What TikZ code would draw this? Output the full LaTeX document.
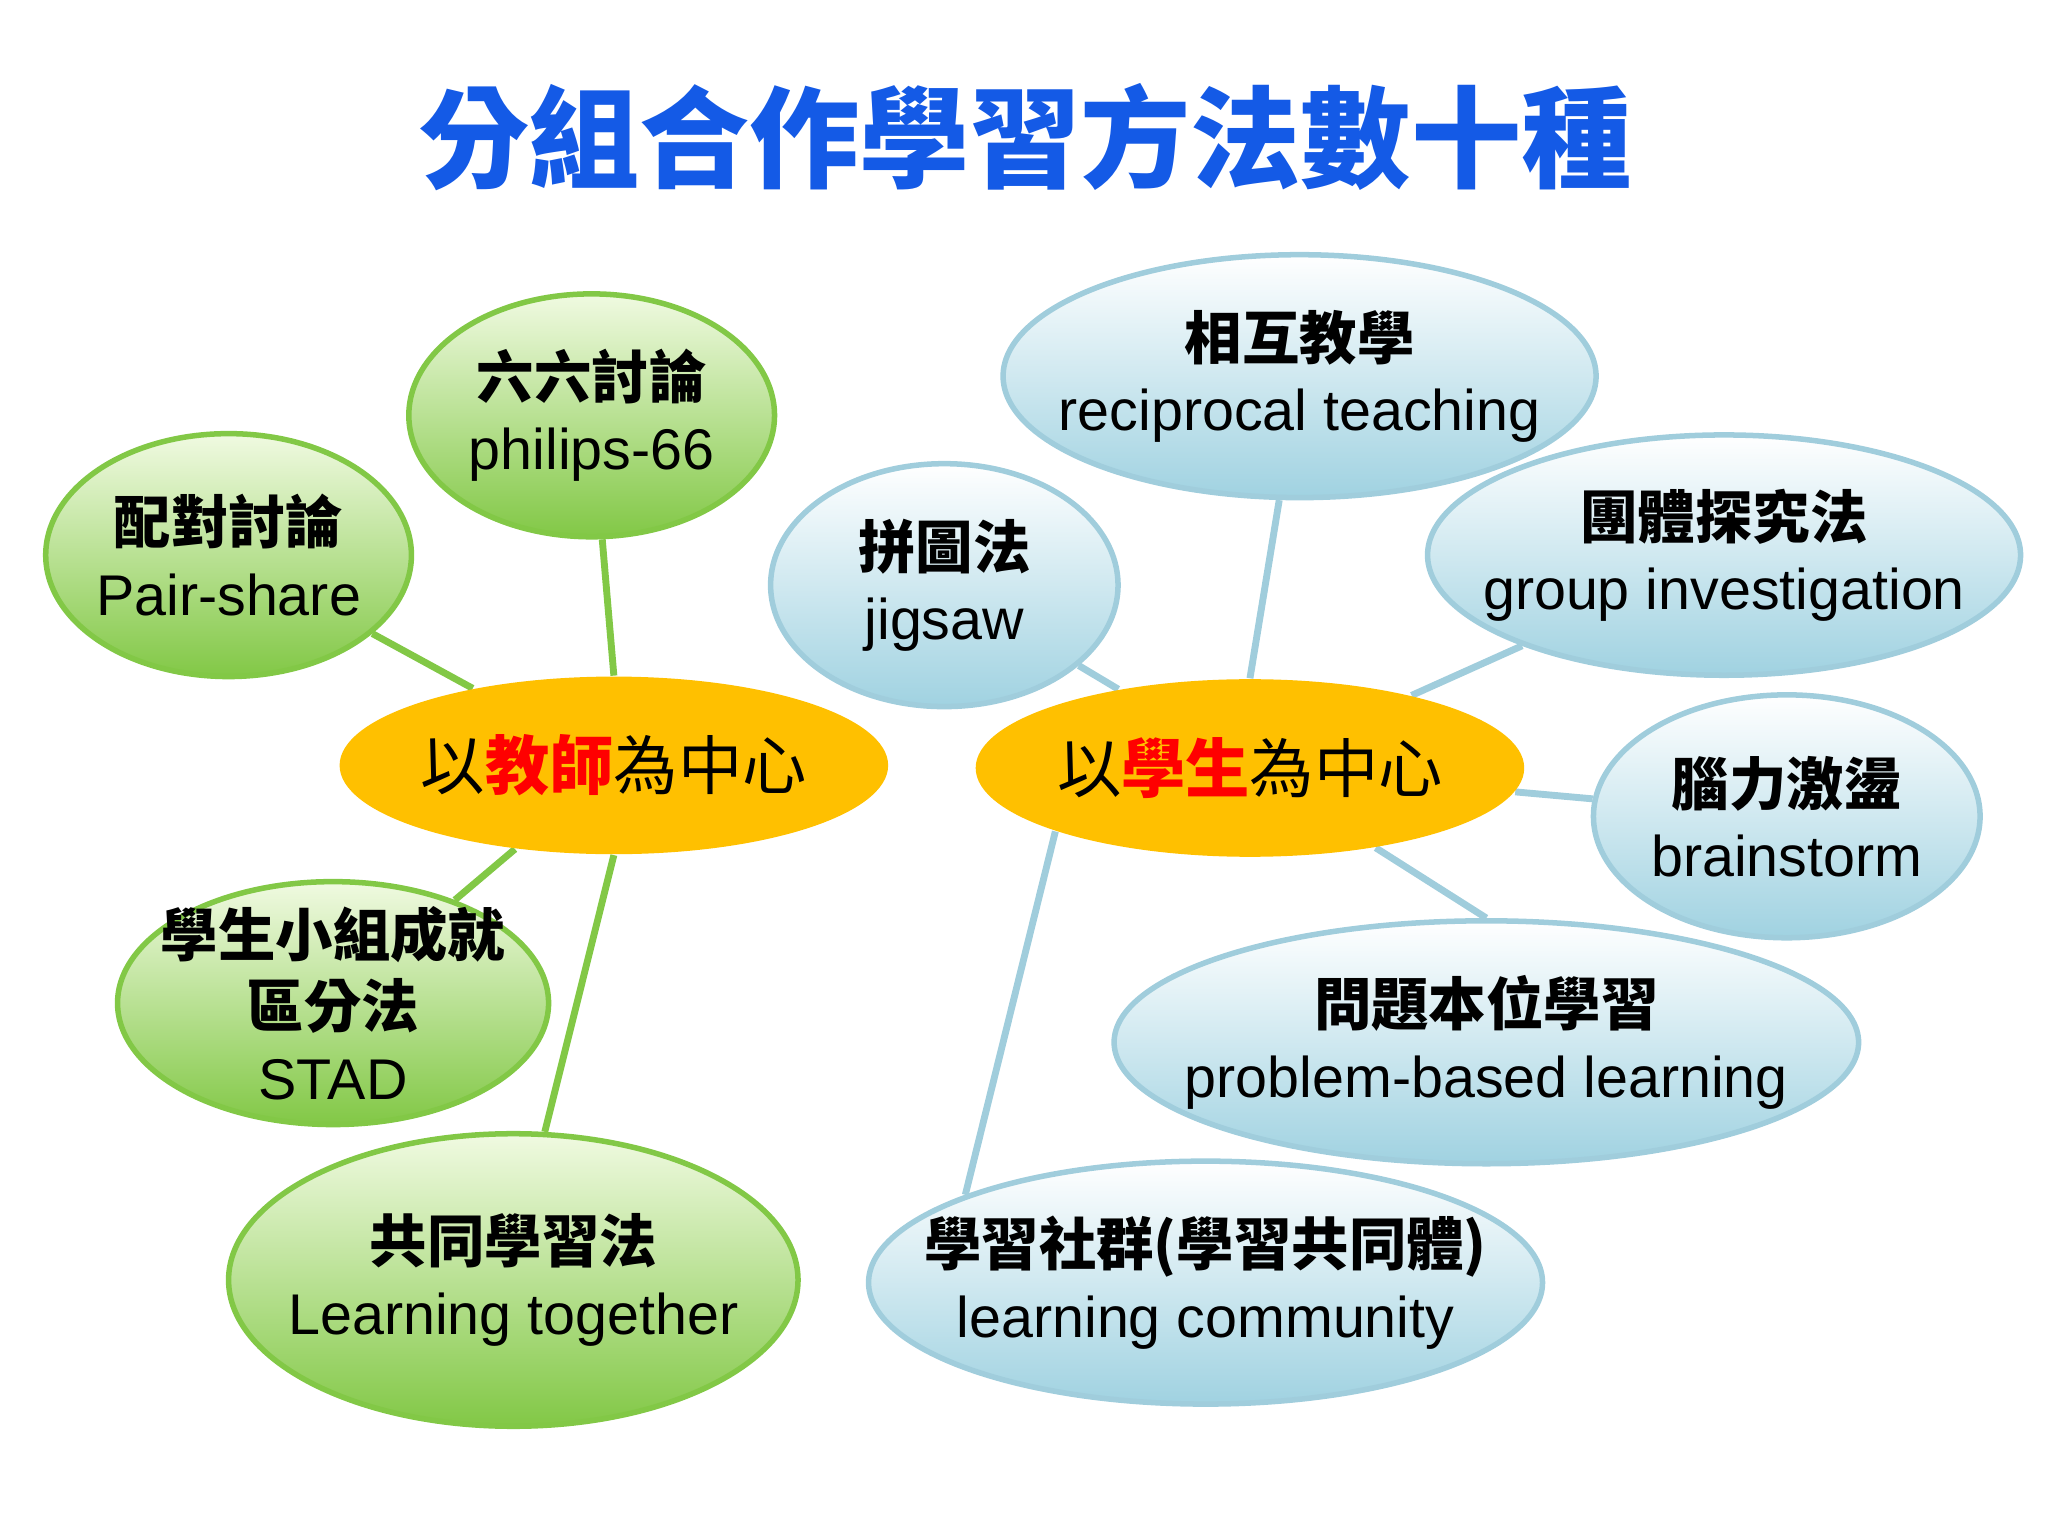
\documentclass[tikz,border=0pt]{standalone}
\usepackage{fontspec}
\setmainfont{Liberation Sans}
\newfontfamily\cjk{Noto Sans CJK TC}
\usetikzlibrary{shapes.geometric,backgrounds}
\definecolor{gbot}{RGB}{130,200,70}
\definecolor{gtop}{RGB}{240,250,225}
\definecolor{gline}{RGB}{130,200,70}
\definecolor{bbot}{RGB}{160,210,225}
\definecolor{bline}{RGB}{160,205,220}
\definecolor{ctrc}{RGB}{255,192,0}
\definecolor{titc}{RGB}{20,90,230}
\begin{document}
\begin{tikzpicture}[x=0.01cm,y=-0.01cm,
  sz/.style 2 args={minimum width=#1*0.01cm,minimum height=#2*0.01cm},
  bub/.style={ellipse,inner sep=0pt,line width=1.2pt},
  txt/.style={align=center,font=\fontsize{12.5pt}{15.5pt}\selectfont,inner sep=0pt},
  gr/.style={bub,draw=gline,top color=gtop,bottom color=gbot},
  bl/.style={bub,draw=bline,top color=white,bottom color=bbot},
  ctr/.style={ellipse,inner sep=0pt,fill=ctrc},
  ctxt/.style={font=\cjk\fontsize{14pt}{16pt}\selectfont,inner sep=0pt},
  gl/.style={draw=gline,line width=1.5pt},
  bll/.style={draw=bline,line width=1.5pt}]
\useasboundingbox (0,0) rectangle (1568,1176);
\node[font=\cjk\bfseries\fontsize{24pt}{26pt}\selectfont,text=titc] (title) at (785,105) {分組合作學習方法數十種};
\node[gr,sz={280}{186}] (pair) at (175,425) {};
\node[txt] (pairT) at (pair) {{\cjk\bfseries 配對討論}\\Pair-share};
\node[gr,sz={280}{186}] (six) at (453,318) {};
\node[txt] (sixT) at (six) {{\cjk\bfseries 六六討論}\\philips-66};
\node[ctr,sz={420}{136}] (teach) at (470,586) {};
\node[ctxt] (teachT) at (teach) {以\textcolor{red}{\bfseries 教師}為中心};
\node[gr,sz={330}{186}] (stad) at (255,768) {};
\node[txt] (stadT) at (stad) {{\cjk\bfseries 學生小組成就}\\{\cjk\bfseries 區分法}\\STAD};
\node[gr,sz={436}{224}] (lt) at (393,980) {};
\node[txt] (ltT) at (lt) {{\cjk\bfseries 共同學習法}\\Learning together};
\node[bl,sz={266}{186}] (jig) at (723,448) {};
\node[txt] (jigT) at (jig) {{\cjk\bfseries 拼圖法}\\jigsaw};
\node[bl,sz={454}{186}] (rec) at (995,288) {};
\node[txt] (recT) at (rec) {{\cjk\bfseries 相互教學}\\reciprocal teaching};
\node[bl,sz={454}{184}] (gi) at (1320,425) {};
\node[txt] (giT) at (gi) {{\cjk\bfseries 團體探究法}\\group investigation};
\node[ctr,sz={420}{136}] (stu) at (957,588) {};
\node[ctxt] (stuT) at (stu) {以\textcolor{red}{\bfseries 學生}為中心};
\node[bl,sz={296}{186}] (brain) at (1368,625) {};
\node[txt] (brainT) at (brain) {{\cjk\bfseries 腦力激盪}\\brainstorm};
\node[bl,sz={570}{186}] (pbl) at (1138,798) {};
\node[txt] (pblT) at (pbl) {{\cjk\bfseries 問題本位學習}\\problem-based learning};
\node[bl,sz={516}{186}] (lc) at (923,982) {};
\node[txt] (lcT) at (lc) {{\cjk\bfseries 學習社群(學習共同體)}\\learning community};
\begin{scope}[on background layer]
\draw[gl] (teach) -- (pair);
\draw[gl] (teach.north) -- (six);
\draw[gl] (teach) -- (stad);
\draw[gl] (teach.south) -- (lt.78);
\draw[bll] (stu) -- (jig);
\draw[bll] (stu.north) -- (rec);
\draw[bll] (stu) -- (gi);
\draw[bll] (stu) -- (brain);
\draw[bll] (stu) -- (pbl.north);
\draw[bll] (stu.south west) -- (lc.north west);
\end{scope}
\end{tikzpicture}
\end{document}
